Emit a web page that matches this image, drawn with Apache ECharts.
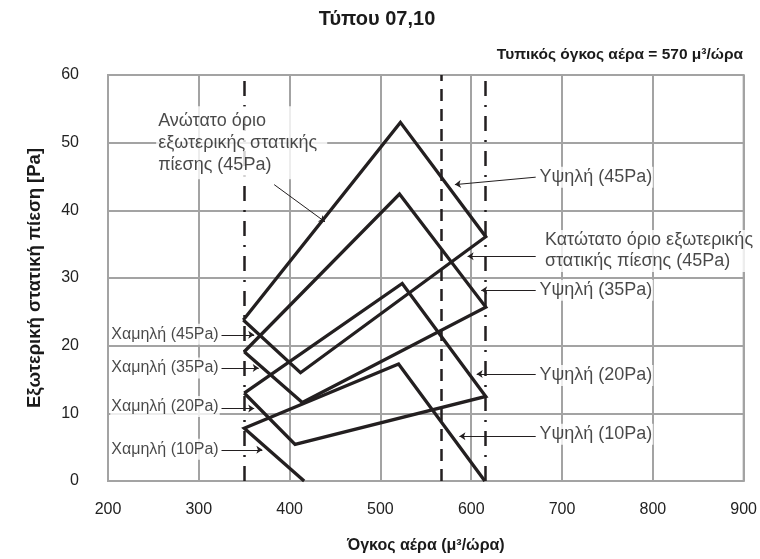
<!DOCTYPE html>
<html>
<head>
<meta charset="utf-8">
<script src="https://cdn.jsdelivr.net/npm/echarts@6/dist/echarts.min.js"></script>
<style>
  html, body { margin: 0; padding: 0; background: #fff; }
  #main { width: 760px; height: 559px; }
</style>
</head>
<body>
<div id="main"></div>
<script>
// axes
const xMin = 200, xMax = 900, xStep = 100
const yMin = 0, yMax = 60, yStep = 10

// reference flows: dash-dot, dashed (rated 570), dash-dot
const refFlows = [350, 567, 615]

// upper limit of ESP (rising edges), per setting
const upper45 = [[349, 23.8], [522, 53.0]]
const upper35 = [[350, 19.1], [521, 42.4]]
const upper20 = [[350, 13.0], [524, 29.2]]
const upper10 = [[350, 7.8], [520, 17.3]]

// high fan speed curves
const high45 = [[522, 53.0], [616, 36.1]]
const high35 = [[521, 42.4], [616, 25.7]]
const high20 = [[524, 29.2], [616, 12.5]]
const high10 = [[520, 17.3], [615, 0]]

// lower limit of ESP
const lower45 = [[412, 16.0], [616, 36.1]]
const lower35 = [[414, 11.6], [616, 25.7]]
const lower20 = [[406, 5.4], [616, 12.5]]

// low fan speed curves
const low45 = [[349, 23.8], [412, 16.0]]
const low35 = [[350, 19.1], [414, 11.6]]
const low20 = [[350, 13.0], [406, 5.4]]
const low10 = [[350, 7.8], [416, 0]]

// annotations
const noteTexts = [
  'Ανώτατο όριο\nεξωτερικής στατικής\nπίεσης (45Pa)',
  'Υψηλή (45Pa)',
  'Κατώτατο όριο εξωτερικής\nστατικής πίεσης (45Pa)',
  'Υψηλή (35Pa)',
  'Υψηλή (20Pa)',
  'Υψηλή (10Pa)',
  'Χαμηλή (45Pa)',
  'Χαμηλή (35Pa)',
  'Χαμηλή (20Pa)',
  'Χαμηλή (10Pa)'
]
const noteAnchors = [
  [253, 50.0], [674, 44.9], [680, 34.0], [674, 28.2], [674, 15.6],
  [674, 6.9], [323, 21.7], [323, 16.7], [323, 11.0], [323, 4.7]
]
const leaderFrom = [
  [383, 43.8], [671, 44.9], [671, 33.2], [671, 28.2], [671, 15.8],
  [671, 6.6], [325, 21.6], [325, 16.7], [325, 10.7], [325, 4.6]
]
const leaderTo = [
  [439, 38.3], [582, 43.8], [596, 33.2], [611, 28.2], [606, 15.8],
  [587, 6.6], [361, 21.6], [366, 16.7], [361, 10.7], [370, 4.6]
]

const INK = '#231f20'
const GRID = '#a3a3a3'
const SANS = '"Liberation Sans", Arial, sans-serif'

function rev(a) {
  return a.slice().reverse()
}

// each setting is one closed outline: rise, high speed, lower limit back, low speed back
function outline(up, high, lower, low) {
  let pts = up.concat(high.slice(1))
  if (lower) {
    pts = pts.concat(rev(lower).slice(1), rev(low).slice(1))
  }
  return pts
}

function curve(data) {
  return {
    type: 'line',
    data: data,
    symbol: 'none',
    silent: true,
    clip: false,
    z: 4,
    lineStyle: { color: INK, width: 3.3, join: 'miter', cap: 'butt' }
  }
}

const chart = echarts.init(document.getElementById('main'), null, { renderer: 'canvas' })

const curves = [
  curve(outline(upper45, high45, lower45, low45)),
  curve(outline(upper35, high35, lower35, low35)),
  curve(outline(upper20, high20, lower20, low20)),
  curve(rev(low10).concat(outline(upper10, high10).slice(1)))
]

const refLines = {
  type: 'line',
  data: [],
  silent: true,
  markLine: {
    symbol: 'none',
    silent: true,
    label: { show: false },
    animation: false,
    data: refFlows.map((v, i) => ({
      xAxis: v,
      lineStyle: {
        color: INK,
        width: 2.5,
        type: i === 1 ? [12, 8] : [15, 9, 2, 9]
      }
    }))
  }
}

const leaders = {
  type: 'line',
  data: [],
  silent: true,
  z: 5,
  markLine: {
    symbol: ['none', 'arrow'],
    symbolSize: 6,
    silent: true,
    animation: false,
    label: { show: false },
    lineStyle: { color: INK, width: 1, type: 'solid' },
    data: leaderFrom.map((p, i) => [{ coord: p }, { coord: leaderTo[i] }])
  }
}

const notes = {
  type: 'scatter',
  symbolSize: 0,
  silent: true,
  z: 6,
  data: noteTexts.map((t, i) => {
    const left = t.indexOf('Χαμηλή') === 0
    return {
      value: noteAnchors[i],
      label: {
        show: true,
        position: left ? 'left' : 'right',
        distance: 0,
        formatter: t,
        color: '#1a1a1a',
        fontFamily: SANS,
        fontSize: left ? 16 : 18,
        lineHeight: i === 0 ? 22 : 21,
        align: left ? 'right' : 'left',
        backgroundColor: '#fff',
        padding: i === 0 ? [3, 10, 4, 2] : [0, 1, 0, 1]
      }
    }
  })
}

const option = {
  backgroundColor: '#fff',
  animation: false,
  title: [
    {
      text: 'Τύπου 07,10',
      left: 372,
      top: 4,
      textAlign: 'center',
      textStyle: { fontFamily: SANS, fontSize: 20, fontWeight: 'bold', color: '#1a1a1a' }
    },
    {
      text: 'Τυπικός όγκος αέρα = 570 μ³/ώρα',
      right: 12,
      top: 42,
      textStyle: { fontFamily: SANS, fontSize: 15.5, fontWeight: 'bold', color: '#1a1a1a' }
    }
  ],
  grid: {
    left: 108, right: 12, top: 75, bottom: 75,
    containLabel: false,
    show: true,
    borderColor: GRID,
    borderWidth: 2
  },
  xAxis: {
    type: 'value',
    min: xMin, max: xMax, interval: xStep,
    name: 'Όγκος αέρα (μ³/ώρα)',
    nameLocation: 'middle',
    nameGap: 57,
    nameTextStyle: { fontFamily: SANS, fontSize: 16, fontWeight: 'bold', color: '#1a1a1a' },
    axisLine: { show: true, lineStyle: { color: GRID, width: 2 } },
    axisTick: { show: false },
    axisLabel: { margin: 21, fontFamily: SANS, fontSize: 16, color: '#222' },
    splitLine: { show: true, lineStyle: { color: GRID, width: 2 } }
  },
  yAxis: {
    type: 'value',
    min: yMin, max: yMax, interval: yStep,
    name: 'Εξωτερική στατική πίεση [Pa]',
    nameLocation: 'middle',
    nameGap: 64,
    nameTextStyle: { fontFamily: SANS, fontSize: 18.5, fontWeight: 'bold', color: '#1a1a1a' },
    axisLine: { show: true, lineStyle: { color: GRID, width: 2 } },
    axisTick: { show: false },
    axisLabel: { margin: 29, fontFamily: SANS, fontSize: 16, color: '#222' },
    splitLine: { show: true, lineStyle: { color: GRID, width: 2 } }
  },
  series: [refLines].concat(curves, [leaders, notes])
}

chart.setOption(option)
</script>
</body>
</html>
